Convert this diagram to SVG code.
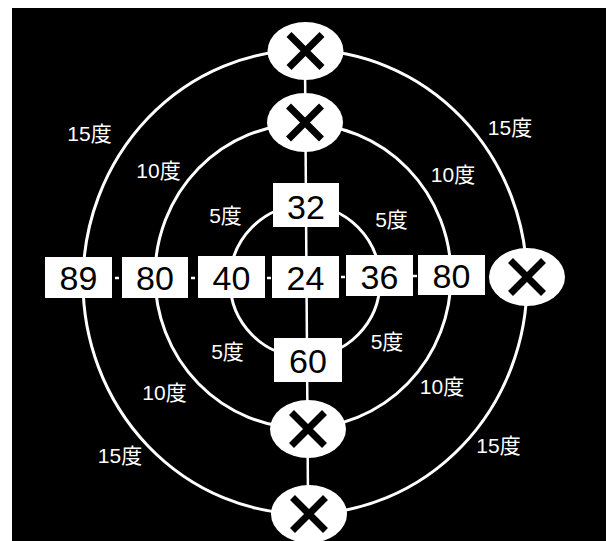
<svg xmlns="http://www.w3.org/2000/svg" width="608" height="541" viewBox="0 0 608 541">
<style>
.ring{fill:none;stroke:#fff;stroke-width:3}
.conn{stroke:#fff;stroke-width:2.5;fill:none}
.box{fill:#fff}
.oval{fill:#fff}
.x{stroke:#000;stroke-width:7;stroke-linecap:butt;fill:none}
.num{font-family:"Liberation Sans",Arial,sans-serif;font-size:34px;fill:#000;text-anchor:middle}
.lbl{font-family:"Liberation Sans","Noto Sans CJK JP",sans-serif;font-size:21px;fill:#fff;text-anchor:middle}
</style>
<rect x="0" y="0" width="608" height="541" fill="#fff"/>
<rect x="12" y="8" width="594" height="533" fill="#000"/>
<g id="rings">
<ellipse class="ring" cx="305" cy="282" rx="222" ry="232"/>
<ellipse class="ring" cx="303" cy="276" rx="148" ry="152"/>
<ellipse class="ring" cx="305" cy="281" rx="75" ry="76"/>
</g>
<g id="connectors">
<line class="conn" x1="305" y1="60" x2="308" y2="500"/>
<line class="conn" x1="115" y1="278" x2="119" y2="278"/>
<line class="conn" x1="191" y1="278" x2="195" y2="278"/>
<line class="conn" x1="267" y1="278" x2="271" y2="278"/>
<line class="conn" x1="341" y1="277" x2="345" y2="277"/>
<line class="conn" x1="413" y1="276" x2="417" y2="276"/>
</g>
<g id="x-top1"><ellipse class="oval" cx="305.5" cy="51" rx="38" ry="29"/><path class="x" d="M289,34.5 L322,67.5 M322,34.5 L289,67.5"/></g>
<g id="x-top2"><ellipse class="oval" cx="305" cy="122.5" rx="38" ry="29.5"/><path class="x" d="M288.5,106 L321.5,139 M321.5,106 L288.5,139"/></g>
<g id="x-bot1"><ellipse class="oval" cx="308" cy="429" rx="38" ry="29"/><path class="x" d="M291.5,412.5 L324.5,445.5 M324.5,412.5 L291.5,445.5"/></g>
<g id="x-bot2"><ellipse class="oval" cx="309" cy="514" rx="38" ry="29"/><path class="x" d="M292.5,497.5 L325.5,530.5 M325.5,497.5 L292.5,530.5"/></g>
<g id="x-right"><ellipse class="oval" cx="527" cy="277" rx="38" ry="29"/><path class="x" d="M510.5,260.5 L543.5,293.5 M543.5,260.5 L510.5,293.5"/></g>
<g id="n89"><rect class="box" x="45" y="257" width="67" height="41"/><text class="num" x="78.5" y="290">89</text></g>
<g id="n80L"><rect class="box" x="122" y="257" width="66" height="41"/><text class="num" x="155" y="290">80</text></g>
<g id="n40"><rect class="box" x="198" y="256" width="67" height="42"/><text class="num" x="231.5" y="290">40</text></g>
<g id="n24"><rect class="box" x="272" y="256" width="67" height="42"/><text class="num" x="305.5" y="289.5">24</text></g>
<g id="n36"><rect class="box" x="346" y="255" width="67" height="41"/><text class="num" x="379.5" y="288.5">36</text></g>
<g id="n80R"><rect class="box" x="418" y="255" width="67" height="40"/><text class="num" x="451.5" y="288">80</text></g>
<g id="n32"><rect class="box" x="273" y="183" width="66" height="44"/><text class="num" x="306" y="219">32</text></g>
<g id="n60"><rect class="box" x="274" y="338" width="68" height="44"/><text class="num" x="308" y="373">60</text></g>
<g id="labels">
<text class="lbl" x="89.5" y="141">15度</text>
<text class="lbl" x="158.5" y="178">10度</text>
<text class="lbl" x="225.5" y="223">5度</text>
<text class="lbl" x="510" y="135">15度</text>
<text class="lbl" x="453" y="182">10度</text>
<text class="lbl" x="391.5" y="227">5度</text>
<text class="lbl" x="227.5" y="359">5度</text>
<text class="lbl" x="164.5" y="400">10度</text>
<text class="lbl" x="120" y="463">15度</text>
<text class="lbl" x="387" y="349">5度</text>
<text class="lbl" x="442" y="394">10度</text>
<text class="lbl" x="498.5" y="453">15度</text>
</g>
</svg>
